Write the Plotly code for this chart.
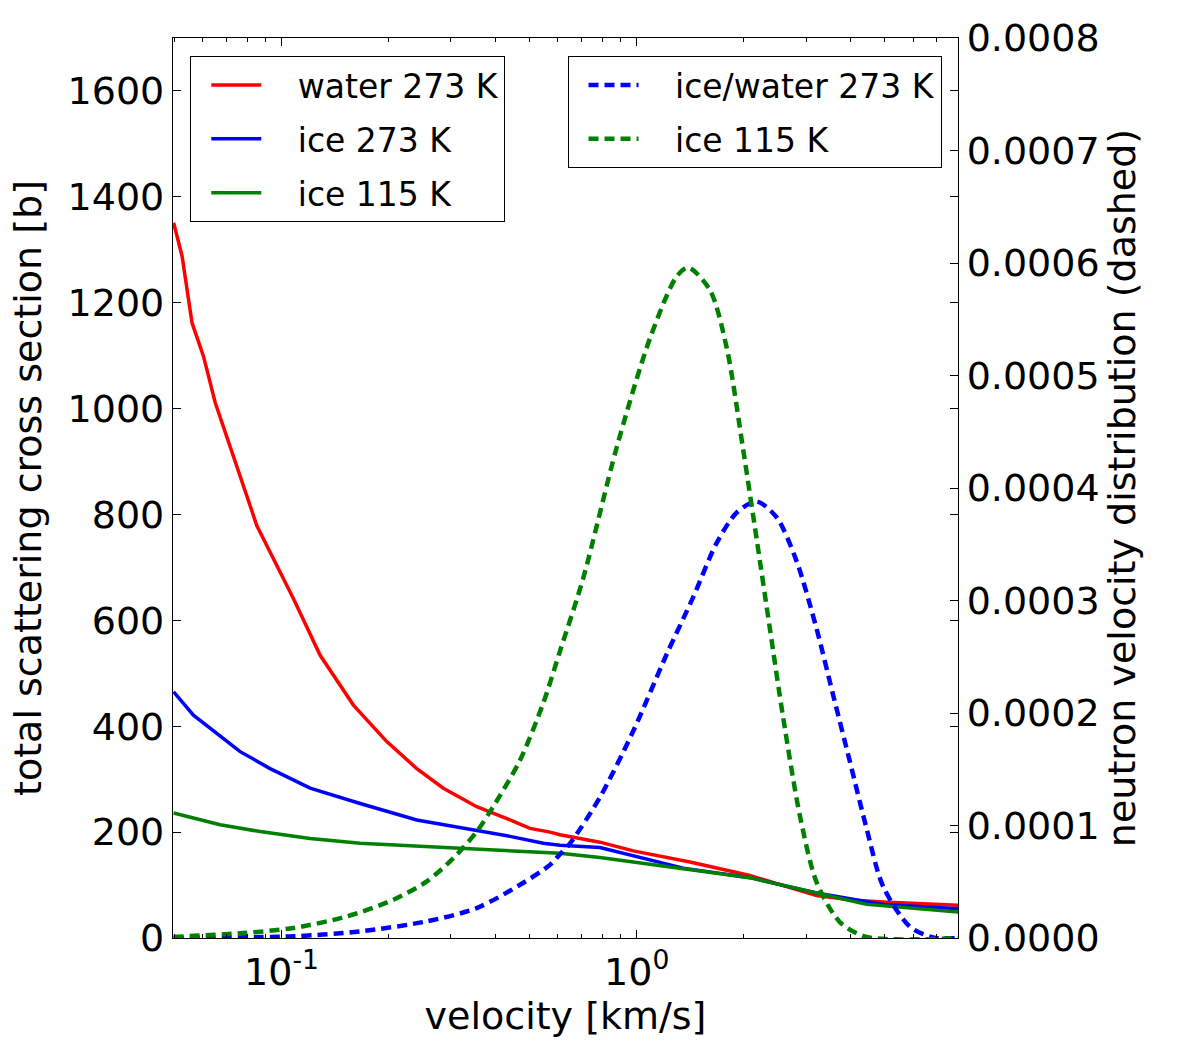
import plotly.graph_objects as go
import math

# ---------------- data ----------------
# total scattering cross section [b]
water273_v = [0.0497, 0.0525, 0.0560, 0.0603, 0.0651, 0.0717, 0.0799, 0.0852, 0.1081, 0.1285,
              0.1594, 0.1979, 0.2404, 0.2856, 0.3546, 0.4399, 0.5008, 0.5702, 0.6083, 0.7881,
              0.9782, 1.413, 2.084, 3.210, 3.983, 4.942, 8.05]
water273_xs = [1351, 1288, 1162, 1099, 1011, 930, 835, 779, 641, 534,
               440, 371, 320, 283, 248, 223, 207, 200, 195, 181,
               164.5, 143.6, 118, 80, 72, 68, 62]

ice273_v = [0.0497, 0.0565, 0.0765, 0.0929, 0.1204, 0.1665, 0.2404, 0.3546, 0.4399, 0.5461,
            0.6083, 0.7881, 1.352, 2.084, 3.210, 4.942, 8.05]
ice273_xs = [465, 421, 352, 320, 283, 254, 223, 204, 192, 179,
             175, 171, 132, 114, 85, 63.5, 55]

ice115_v = [0.0497, 0.0672, 0.0871, 0.1204, 0.1665, 0.2565, 0.3950, 0.6083, 0.7881, 1.352,
            2.084, 3.210, 4.438, 8.05]
ice115_xs = [236, 214, 201, 188, 179, 173, 166, 160, 152, 131,
             114, 85, 63.5, 49]

# neutron velocity distribution (dashed, right axis)
dist_icewater273_v = [0.0497, 0.1081, 0.1665, 0.2565, 0.3546, 0.4694, 0.5702, 0.6083, 0.6491, 0.7881,
                      0.9782, 1.214, 1.443, 1.679, 1.911, 2.176, 2.477, 2.820, 3.210, 3.574,
                      3.983, 4.438, 4.942, 5.875, 6.833, 8.05]
dist_icewater273 = [0.0, 0.0000015, 0.0000059, 0.0000148, 0.0000266, 0.0000473, 0.0000650, 0.0000745, 0.0000840, 0.000125,
                    0.000184, 0.000252, 0.000303, 0.000351, 0.000378, 0.000388, 0.000374, 0.000335, 0.000275, 0.000216,
                    0.000157, 0.0000976, 0.0000458, 0.0000101, 0.0000005, 0.0]

dist_ice115_v = [0.0497, 0.0782, 0.1081, 0.1528, 0.2066, 0.2565, 0.3048, 0.3546, 0.3950, 0.4694,
                 0.5461, 0.6083, 0.7075, 0.8784, 1.090, 1.296, 1.397, 1.608, 1.792, 1.995,
                 2.176, 2.372, 2.585, 2.880, 3.210, 3.733, 4.438, 8.05]
dist_ice115 = [0.000001, 0.0000044, 0.0000089, 0.0000192, 0.000034, 0.0000503, 0.000071, 0.0000946, 0.000117, 0.000158,
               0.000209, 0.000255, 0.000320, 0.000436, 0.000533, 0.000588, 0.000596, 0.000576, 0.000525, 0.000434,
               0.000355, 0.000275, 0.000196, 0.000109, 0.0000497, 0.0000142, 0.000001, 0.0]

x_tickvals = [0.1, 1]
x_ticktext = ["10<sup>-1</sup>", "10<sup>0</sup>"]
x_minor = [0.05, 0.06, 0.07, 0.08, 0.09, 0.2, 0.3, 0.4, 0.5, 0.6, 0.7, 0.8, 0.9, 2, 3, 4, 5, 6, 7, 8]
y_left_ticks = [0, 200, 400, 600, 800, 1000, 1200, 1400, 1600]
y_right_ticks = [0, 0.0001, 0.0002, 0.0003, 0.0004, 0.0005, 0.0006, 0.0007, 0.0008]

RED = "#ff0000"
BLUE = "#0000ff"
GREEN = "#008000"
FONT = "DejaVu Sans"
PAD = "\u00a0\u00a0\u00a0"

fig = go.Figure()

solid = [("water 273 K", water273_v, water273_xs, RED),
         ("ice 273 K", ice273_v, ice273_xs, BLUE),
         ("ice 115 K", ice115_v, ice115_xs, GREEN)]
for i, (name, v, s, c) in enumerate(solid):
    fig.add_trace(go.Scatter(x=v, y=s, mode="lines", name=PAD + name,
                             line=dict(color=c, width=3.5),
                             legend="legend", legendgroup="a%d" % i))

dashed = [("ice/water 273 K", dist_icewater273_v, dist_icewater273, BLUE),
          ("ice 115 K", dist_ice115_v, dist_ice115, GREEN)]
for i, (name, v, d, c) in enumerate(dashed):
    fig.add_trace(go.Scatter(x=v, y=d, mode="lines", name=PAD + name, yaxis="y2",
                             line=dict(color=c, width=4.5, dash="10px,6px",
                                       shape="spline", smoothing=0.8),
                             legend="legend2", legendgroup="b%d" % i))

axis_font = dict(family=FONT, size=38, color="black")

fig.update_layout(
    width=1179, height=1051,
    margin=dict(l=173, r=221, t=38, b=113),
    paper_bgcolor="white", plot_bgcolor="white",
    font=dict(family=FONT, color="black"),
    xaxis=dict(
        type="log",
        range=[math.log10(0.0495), math.log10(8.03)],
        tickmode="array", tickvals=x_tickvals, ticktext=x_ticktext,
        ticks="inside", ticklen=8, tickwidth=1, tickcolor="black",
        minor=dict(tickmode="array", tickvals=x_minor, ticks="inside", ticklen=4,
                   tickwidth=1, tickcolor="black", showgrid=False),
        showline=True, linecolor="black", linewidth=1.2, mirror="ticks",
        showgrid=False, zeroline=False,
        tickfont=axis_font,
        title=dict(text="velocity [km/s]", font=axis_font, standoff=8),
    ),
    yaxis=dict(
        range=[0, 1700],
        tickmode="array", tickvals=y_left_ticks,
        ticks="inside", ticklen=8, tickwidth=1, tickcolor="black",
        showline=True, linecolor="black", linewidth=1.2, mirror="ticks",
        showgrid=False, zeroline=False,
        tickfont=axis_font,
        title=dict(text="total scattering cross section [b]", font=axis_font, standoff=14),
    ),
    yaxis2=dict(
        overlaying="y", side="right",
        range=[0, 0.0008],
        tickmode="array", tickvals=y_right_ticks, tickformat=".4f",
        ticks="inside", ticklen=8, tickwidth=1, tickcolor="black",
        showline=True, linecolor="black", linewidth=1.2,
        showgrid=False, zeroline=False,
        tickfont=axis_font,
        title=dict(text="neutron velocity distribution (dashed)", font=axis_font, standoff=8),
    ),
    legend=dict(
        x=0.022, y=0.98, xanchor="left", yanchor="top",
        bgcolor="white", bordercolor="black", borderwidth=1,
        font=dict(family=FONT, size=33, color="black"),
        traceorder="grouped", tracegroupgap=8, itemwidth=50, indentation=15,
    ),
    legend2=dict(
        x=0.979, y=0.98, xanchor="right", yanchor="top",
        bgcolor="white", bordercolor="black", borderwidth=1,
        font=dict(family=FONT, size=33, color="black"),
        traceorder="grouped", tracegroupgap=8, itemwidth=50, indentation=15,
    ),
)

fig.write_html("out.html")
